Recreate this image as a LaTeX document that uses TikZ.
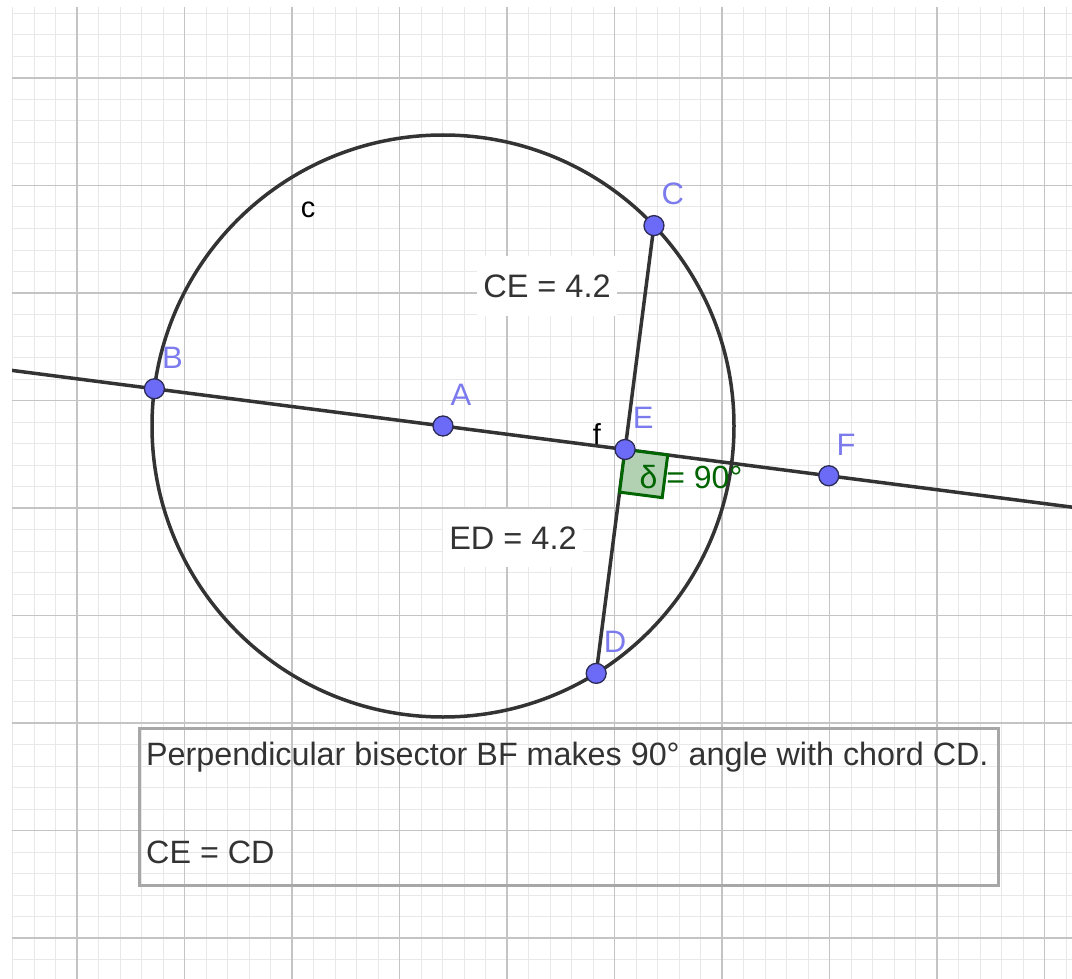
\documentclass[tikz,border=0pt]{standalone}
\usepackage{fontspec}
\setmainfont{Liberation Sans}
\usetikzlibrary{calc,positioning}
\definecolor{ggpoint}{HTML}{6B6BF8}
\definecolor{ggpointdraw}{HTML}{2B2B55}
\definecolor{gglabel}{HTML}{7B7BEE}
\definecolor{ggline}{HTML}{333333}
\definecolor{ggangle}{HTML}{006400}
\definecolor{ggmajor}{HTML}{C4C4C4}
\definecolor{ggminor}{HTML}{E8E8E8}
\definecolor{ggtext}{HTML}{333333}
\tikzset{
  majorline/.style={draw=ggmajor, line width=1.6pt},
  minorline/.style={draw=ggminor, line width=1pt},
  curve/.style={draw=ggline, line width=3.5pt},
  pt/.style={circle, fill=ggpoint, draw=ggpointdraw, line width=1.3pt, minimum size=20pt, inner sep=0pt},
  ptlabel/.style={text=gglabel, font=\fontsize{31}{37}\selectfont, inner sep=0pt},
  objname/.style={text=black, font=\fontsize{29}{35}\selectfont, inner sep=0pt},
  measure/.style={fill=white, text=ggtext, font=\fontsize{32.5}{39}\selectfont, inner xsep=6pt, inner ysep=18pt},
  rightmark/.style={draw=ggangle, fill=ggangle!30, line width=3pt, line join=miter},
  anglelabel/.style={text=ggangle, font=\fontsize{32}{38}\selectfont, inner sep=0pt},
  notebox/.style={draw=ggmajor!85!black, line width=3pt, minimum width=859pt, minimum height=157pt, anchor=north west, inner sep=0pt},
  notetext/.style={text=ggtext, font=\fontsize{32.3}{39}\selectfont, anchor=base west, inner sep=0pt},
}

\begin{document}
\begin{tikzpicture}[x=1pt, y=-1pt]
  \useasboundingbox (0,0) rectangle (1072,979);
  % points of the construction
  \def\tilt{7.35}
  \coordinate (A) at (443,426);
  \coordinate (B) at ($(A)+(180+\tilt:291)$);
  \coordinate (F) at ($(A)+(\tilt:389)$);
  \coordinate (E) at ($(A)+(\tilt:183.6)$);
  \coordinate (C) at ($(E)+(\tilt-90:225.75)$);
  \coordinate (D) at ($(E)+(\tilt+90:225.75)$);
  \coordinate (fstart) at ($(B)!-0.4!(F)$);
  \coordinate (fend) at ($(B)!1.7!(F)$);
  % grid and line f
  \begin{scope}
    \clip (12,7) rectangle (1072,979);
    \foreach \i in {0,...,49} \draw[minorline] ({12.5+21.5*\i},7) -- ++(0,972);
    \foreach \j in {0,...,45} \draw[minorline] (12,{13.5+21.5*\j}) -- ++(1060,0);
    \foreach \i in {0,...,9} \draw[majorline] ({77+107.5*\i},7) -- ++(0,972);
    \foreach \j in {0,...,8} \draw[majorline] (12,{78+107.5*\j}) -- ++(1060,0);
    \draw[curve] (fstart) -- (fend);
  \end{scope}
  \draw[curve] (A) circle[radius=291];
  \draw[curve] (C) -- (D);
  \draw[rightmark] (E) -- ++(\tilt:43) -- ++(\tilt+90:43) -- ++(\tilt+180:43) -- cycle;
  % labels
  \node[anglelabel] (delta) at (691,477) {δ = 90°};
  \node[measure] (ce) at (547,286) {CE = 4.2};
  \node[measure] (ed) at (513,538) {ED = 4.2};
  \node[objname] (cname) at (308,210) {c};
  \node[objname] (fname) at (597,434) {f};
  \foreach \p in {A,B,C,D,E,F} {
    \node[pt] (dot\p) at (\p) {};
    \node[ptlabel, above right=13pt and 0pt of dot\p] {\p};
  }
  % text box
  \node[notebox] (note) at (138,727) {};
  \node[notetext] (notetop) at ($(note.north west)+(8,38)$) {Perpendicular bisector BF makes 90° angle with chord CD.};
  \node[notetext] (notebottom) at ($(note.north west)+(8,136)$) {CE = CD};
\end{tikzpicture}
\end{document}
